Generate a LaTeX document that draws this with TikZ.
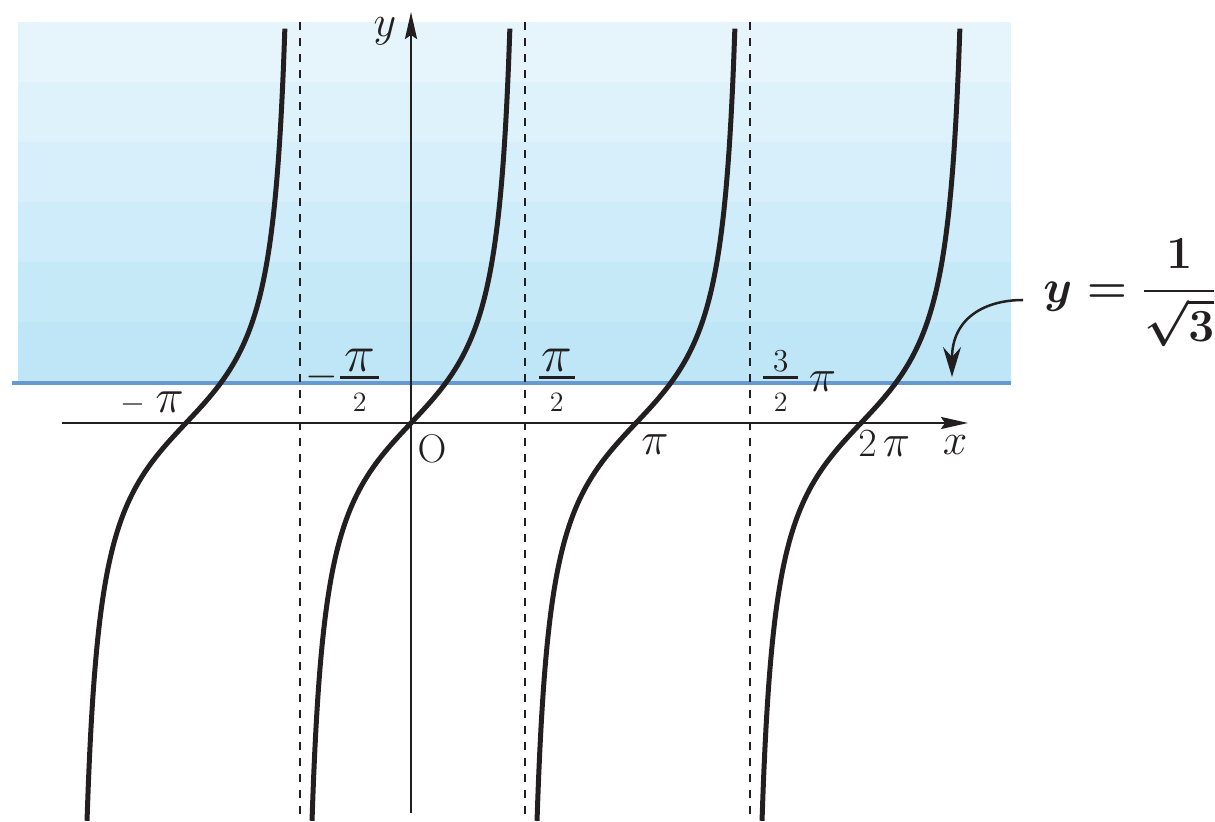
\RequirePackage{fix-cm}
\documentclass[tikz,border=0pt]{standalone}
\usepackage{amsmath}
\usetikzlibrary{arrows.meta}
\definecolor{bandA}{RGB}{230,245,252}
\definecolor{bandB}{RGB}{222,242,251}
\definecolor{bandC}{RGB}{214,239,250}
\definecolor{bandD}{RGB}{206,236,249}
\definecolor{bandE}{RGB}{198,233,248}
\definecolor{bandF}{RGB}{190,230,247}
\definecolor{hline}{RGB}{102,153,210}
\definecolor{ink}{RGB}{35,31,32}
\newcommand{\setfs}[1]{\fontsize{#1}{#1}\selectfont}
% numerator, denominator, side padding
\newcommand{\padfrac}[3]{\genfrac{}{}{1.3pt}{1}{\hspace{#3}\hbox{#1}\hspace{#3}}{\hbox{\raisebox{-4.5pt}{#2}}}}
\tikzset{
  axisline/.style={line width=1.25pt, ink, -{Stealth[length=13.5pt,width=6pt,inset=2pt]}},
  asym/.style={line width=1.2pt, ink, dash pattern=on 4pt off 4pt},
  curveline/.style={line width=2.5pt, ink},
  lab/.style={font={\setfs{21}}, inner sep=0pt, anchor=base, text=ink},
  axlab/.style={lab, font={\setfs{22}}},
  eqlab/.style={font={\setfs{23}\boldmath}, inner sep=0pt, anchor=base west, text=ink},
  pointer/.style={line width=1.25pt, ink, -{Stealth[length=15pt,width=9pt,inset=5pt]}}
}
\begin{document}
\begin{tikzpicture}[x=0.5pt,y=-0.5pt]
\useasboundingbox (0,0) rectangle (1215,822);
% shaded region
\foreach \i/\c in {0/bandA,1/bandB,2/bandC,3/bandD,4/bandE,5/bandF}
  \fill[\c] (18,{22+60*\i}) rectangle (1011,{82+60*\i});
% line y = 1/sqrt3
\coordinate (hl1) at (12,383);
\coordinate (hl2) at (1011,383);
\draw[hline, line width=2pt] (hl1) -- (hl2);
% asymptotes
\foreach \n/\xx in {a/300,b/525,c/750}{
  \coordinate (\n top) at (\xx,22);
  \coordinate (\n bot) at (\xx,815);
  \draw[asym] (\n top) -- (\n bot);
}
% axes
\coordinate (xs) at (62,423);
\coordinate (xe) at (968,423);
\coordinate (ys) at (411,813);
\coordinate (ye) at (411,12);
\draw[axisline] (xs) -- (xe);
\draw[axisline] (ys) -- (ye);
% tangent branches
\foreach \cc in {186,411,636,861}
  \draw[curveline] plot[domain=-1.382:1.382, samples=150, smooth] ({\cc+71.62*\x},{423-76*tan(\x r)});
% labels
\node[axlab] (ylab) at (385,37) {$y$};
\node[axlab] (xlab) at (955,455) {$x$};
\node[lab] (olab) at (432,463) {\setfs{20}$\mathrm{O}$};
\node[lab, anchor=base west] (mpi) at (120,413) {{\setfs{16}$-$}\hspace{5pt}{\setfs{24}$\pi$}};
\node[lab, anchor=base west] (mhalf) at (305,388) {$-\padfrac{\setfs{26}$\pi$}{\setfs{14}$2$}{2pt}$};
\node[lab, anchor=base west] (phalf) at (536,388) {$\padfrac{\setfs{26}$\pi$}{\setfs{14}$2$}{1.3pt}$};
\node[lab, anchor=base west] (thalf) at (760,388) {$\padfrac{\setfs{16}$3$}{\setfs{14}$2$}{5pt}$\hspace{4pt}\raisebox{-2pt}{\setfs{23}$\pi$}};
\node[lab] (pilab) at (655,455) {\setfs{23}$\pi$};
\node[lab, anchor=base west] (twopi) at (858,457) {{\setfs{20}$2$}\hspace{3pt}{\setfs{23}$\pi$}};
\node[eqlab] (eqn) at (1043,303) {$y=\dfrac{1}{\sqrt{3}}$};
% pointer
\coordinate (aS) at (1023,300);
\coordinate (aE) at (952,377);
\draw[pointer] (aS) .. controls (985,300) and (952,318) .. (aE);
\end{tikzpicture}
\end{document}
